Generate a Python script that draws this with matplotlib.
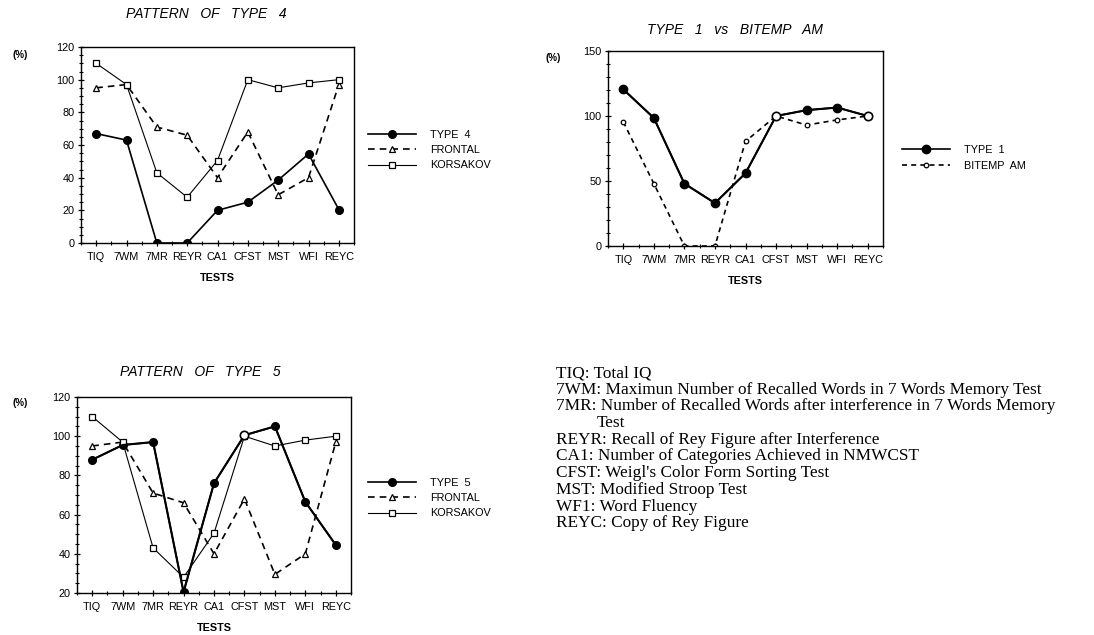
import matplotlib
matplotlib.use("Agg")
import matplotlib.pyplot as plt
from matplotlib.ticker import MultipleLocator
import numpy as np

tests = ["TIQ", "7WM", "7MR", "REYR", "CA1", "CFST", "MST", "WFI", "REYC"]

# Pattern of type 4
type4 = [67, 63, 0, 0, 20, 25, 38.5, 54.5, 20.5]
frontal = [95, 97, 71, 66, 40, 68, 29.5, 40, 97]
korsakov = [110, 97, 43, 28, 50.5, 100, 95, 98, 100]

# Type 1 vs Bitemp AM
type1 = [120.5, 98.5, 48, 33, 56, 100, 104.5, 106.5, 100]
bitemp = [95.5, 48, 0, 0, 80.5, 100, 93, 97, 100]

# Pattern of type 5
type5 = [88, 95.5, 97, 20.5, 76, 100.5, 105, 66.5, 44.5]

legend_t4 = ["TYPE  4", "FRONTAL", "KORSAKOV"]
legend_t1 = ["TYPE  1", "BITEMP  AM"]
legend_t5 = ["TYPE  5", "FRONTAL", "KORSAKOV"]

notes = [
    "TIQ: Total IQ",
    "7WM: Maximun Number of Recalled Words in 7 Words Memory Test",
    "7MR: Number of Recalled Words after interference in 7 Words Memory",
    "Test",
    "REYR: Recall of Rey Figure after Interference",
    "CA1: Number of Categories Achieved in NMWCST",
    "CFST: Weigl's Color Form Sorting Test",
    "MST: Modified Stroop Test",
    "WF1: Word Fluency",
    "REYC: Copy of Rey Figure",
]

W, H = 1094, 635
fig = plt.figure(figsize=(W / 100, H / 100), dpi=100)
SANS = "Liberation Sans"
SERIF = "Liberation Serif"


def fx(px):
    return px / W


def fy(py):
    return 1 - py / H


def make_axes(left, right, top, bottom):
    return fig.add_axes([fx(left), fy(bottom), fx(right - left), fy(top) - fy(bottom)])


def style_axes(ax, ylim, ymajor, yminor):
    x = np.arange(len(tests))
    ax.set_xlim(-0.5, len(tests) - 0.5)
    ax.set_ylim(*ylim)
    ax.set_xticks(x)
    ax.set_xticklabels(tests, fontsize=7.8, family=SANS)
    ax.xaxis.set_minor_locator(MultipleLocator(0.5))
    ax.yaxis.set_major_locator(MultipleLocator(ymajor))
    ax.yaxis.set_minor_locator(MultipleLocator(yminor))
    for lab in ax.get_yticklabels():
        lab.set_fontsize(7.8)
        lab.set_family(SANS)
    ax.tick_params(which="major", direction="inout", length=5, width=0.9, pad=3, colors="black")
    ax.tick_params(which="minor", direction="inout", length=3, width=0.8)
    ax.tick_params(axis="x", which="major", pad=4)
    ax.tick_params(axis="y", which="major", pad=2)
    for s in ax.spines.values():
        s.set_linewidth(1.0)
    ax.set_xlabel("TESTS", fontsize=7.8, family=SANS, fontweight="bold", labelpad=8)


def add_legend(ax, labels, xpx, ypx):
    ax.legend(labels=labels, handles=ax.get_lines()[: len(labels)], loc="center left",
              bbox_to_anchor=(fx(xpx), fy(ypx)), bbox_transform=fig.transFigure,
              frameon=False, prop={"family": SANS, "size": 7.8},
              handlelength=4.4, handletextpad=1.3, labelspacing=0.5,
              borderpad=0, borderaxespad=0, numpoints=1)


x = np.arange(len(tests))

# ---------- Chart 1 ----------
ax1 = make_axes(81, 354, 47, 243)
ax1.plot(x, type4, "-", color="black", lw=1.2, marker="o", ms=5.5, mfc="black")
ax1.plot(x, frontal, "--", color="black", lw=1.2, dashes=(4, 3), marker="^", ms=3.8, mfc="white", mew=0.9)
ax1.plot(x, korsakov, "-", color="black", lw=0.8, marker="s", ms=3.8, mfc="white", mew=0.9)
style_axes(ax1, (0, 120), 20, 5)
fig.text(fx(206), fy(14), "PATTERN   OF   TYPE   4", fontsize=10, style="italic", family=SANS,
         ha="center", va="center")
fig.text(fx(20), fy(55), "(%)", fontsize=7, family=SANS, fontweight="bold", ha="center", va="center")
add_legend(ax1, legend_t4, 368, 150)

# ---------- Chart 2 ----------
ax2 = make_axes(608, 883, 51, 246)
hollow1 = [5, 8]
filled1 = [i for i in range(len(tests)) if i not in hollow1]
ax2.plot(x, type1, "-", color="black", lw=1.2, marker="o", ms=6, mfc="black", markevery=filled1)
ax2.plot(x, bitemp, "--", color="black", lw=1.2, dashes=(3, 2.5), marker="o", ms=3.3, mfc="white", mew=0.9)
ax2.plot(x, type1, "none", color="black", marker="o", ms=6, mfc="white", mew=1.2, markevery=hollow1)
style_axes(ax2, (0, 150), 50, 10)
fig.text(fx(735), fy(30), "TYPE   1   vs   BITEMP   AM", fontsize=10, style="italic", family=SANS,
         ha="center", va="center")
fig.text(fx(553), fy(58), "(%)", fontsize=7, family=SANS, fontweight="bold", ha="center", va="center")
add_legend(ax2, legend_t1, 902, 158)

# ---------- Chart 3 ----------
ax3 = make_axes(77, 351, 397, 593)
hollow5 = [5]
filled5 = [i for i in range(len(tests)) if i not in hollow5]
ax3.plot(x, type5, "-", color="black", lw=1.2, marker="o", ms=5.5, mfc="black", markevery=filled5)
ax3.plot(x, frontal, "--", color="black", lw=1.2, dashes=(4, 3), marker="^", ms=3.8, mfc="white", mew=0.9)
ax3.plot(x, korsakov, "-", color="black", lw=0.8, marker="s", ms=3.8, mfc="white", mew=0.9)
ax3.plot(x, type5, "none", color="black", marker="o", ms=6, mfc="white", mew=1.2, markevery=hollow5)
style_axes(ax3, (20, 120), 20, 5)
fig.text(fx(200), fy(372), "PATTERN   OF   TYPE   5", fontsize=10, style="italic", family=SANS,
         ha="center", va="center")
fig.text(fx(20), fy(403), "(%)", fontsize=7, family=SANS, fontweight="bold", ha="center", va="center")
add_legend(ax3, legend_t5, 368, 498)

# ---------- Notes ----------
y0 = 373
for i, line in enumerate(notes):
    xpos = 597 if line == "Test" else 556
    fig.text(fx(xpos), fy(y0 + i * 16.7), line, fontsize=12.4, family=SERIF, ha="left", va="center")

fig.savefig("out.png", dpi=100)
